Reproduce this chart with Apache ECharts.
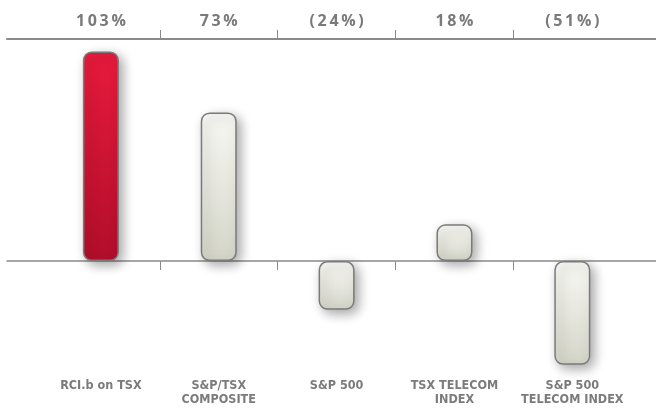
<!DOCTYPE html>
<html><head><meta charset="utf-8">
<script src="https://cdn.jsdelivr.net/npm/echarts@6/dist/echarts.min.js"></script>
<style>html,body{margin:0;padding:0;background:#fff}#c{width:656px;height:410px}</style>
</head><body><div id="c"></div>
<script>
var categories = ['RCI.b on TSX', 'S&P/TSX\nCOMPOSITE', 'S&P 500', 'TSX TELECOM\nINDEX', 'S&P 500\nTELECOM INDEX'];
var values = [103, 73, -24, 18, -51];
var topLabels = ['103%', '73%', '(24%)', '18%', '(51%)'];

var chart = echarts.init(document.getElementById('c'));
var catIdx = categories.map(function (c, i) { return i; });
var bounds = categories.slice(1).map(function (c, i) { return i + 0.5; });
var xMin = -0.7966, xMax = 4.71;
var lineColor = '#8a8a8a';
var font = '"Liberation Sans Narrow", "DejaVu Sans Condensed", "Open Sans", sans-serif';

function redFill() {
  return new echarts.graphic.LinearGradient(0, 0, 0, 1, [
    { offset: 0, color: '#e81a3c' }, { offset: 1, color: '#b10e2b' }]);
}
function grayFill() {
  return new echarts.graphic.LinearGradient(0, 0, 0, 1, [
    { offset: 0, color: '#f8f8f4' }, { offset: 1, color: '#d4d5c8' }]);
}

chart.setOption({
  animation: false,
  grid: { left: 7, right: 0, top: 39, bottom: 37, outerBoundsMode: 'none', containLabel: false },
  xAxis: [{
    type: 'value', min: xMin, max: xMax, position: 'bottom',
    axisLine: { show: true, onZero: true, lineStyle: { color: lineColor, width: 1.5 } },
    axisTick: { show: true, customValues: bounds, length: 9, lineStyle: { color: lineColor, width: 1 } },
    axisLabel: { show: false },
    splitLine: { show: false }
  }, {
    type: 'value', min: xMin, max: xMax, position: 'top',
    axisLine: { show: true, lineStyle: { color: lineColor, width: 2 } },
    axisTick: { show: true, customValues: bounds, length: 9, lineStyle: { color: lineColor, width: 1 } },
    axisLabel: { customValues: catIdx, margin: 10, color: '#7a7a7a', fontSize: 16, fontWeight: 'bold',
      fontFamily: '"Open Sans", sans-serif', formatter: function (v) { return topLabels[Math.round(v)].split('').join('\u2009'); } },
    splitLine: { show: false }
  }, {
    type: 'value', min: xMin, max: xMax, position: 'bottom',
    axisLine: { show: false, onZero: false },
    axisTick: { show: false },
    axisLabel: { customValues: catIdx, margin: 6, color: '#7b7b7b', fontSize: 12.5, fontWeight: 'bold',
      fontFamily: font, lineHeight: 14, formatter: function (v) { return categories[Math.round(v)]; } },
    splitLine: { show: false }
  }],
  yAxis: { type: 'value', min: -55.04, max: 109.1, show: false, splitLine: { show: false } },
  series: [{
    type: 'bar', xAxisIndex: 0, barWidth: 36,
    data: values.map(function (v, i) {
      return {
        value: [i, v],
        itemStyle: {
          color: i === 0 ? redFill() : grayFill(),
          borderColor: '#7a7a7a', borderWidth: 1.5, borderRadius: 8,
          shadowBlur: 12, shadowColor: 'rgba(0,0,0,0.35)', shadowOffsetX: 4, shadowOffsetY: 4
        }
      };
    })
  }]
});
</script></body></html>
